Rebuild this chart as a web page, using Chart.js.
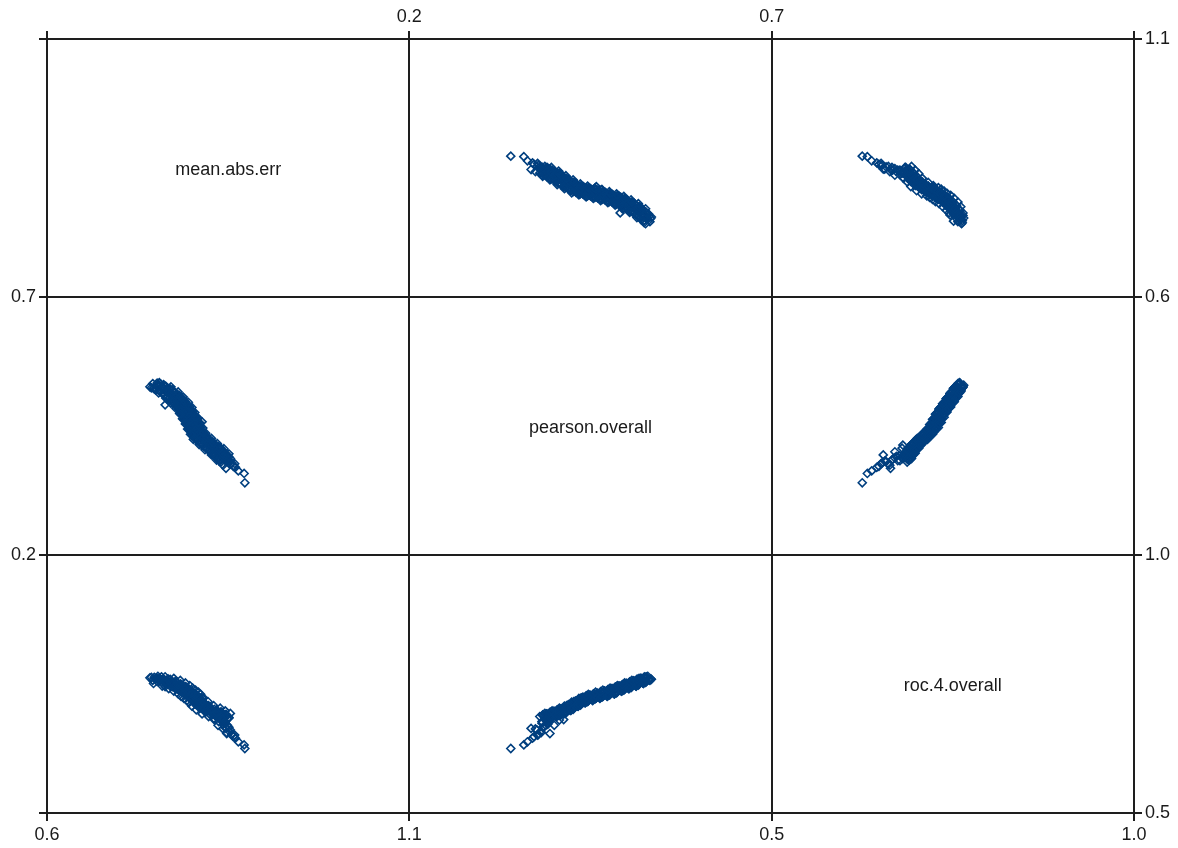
<!DOCTYPE html>
<html>
<head>
<meta charset="utf-8">
<title>Scatterplot matrix</title>
<script src="https://cdn.jsdelivr.net/npm/chart.js@4/dist/chart.umd.min.js"></script>
<style>
  html, body { margin: 0; padding: 0; background: #fff; }
  canvas { display: block; }
</style>
</head>
<body>
<canvas id="splom" width="1178" height="848"></canvas>
<script>
// variable names shown on the diagonal
const varNames = ["mean.abs.err", "pearson.overall", "roc.4.overall"];

// axis ranges (the two tick labels of each variable)
const maeTicks = [0.6, 1.1];
const pearsonTicks = [0.2, 0.7];
const rocTicks = [0.5, 1.0];

// one value per model run, same order in all three arrays
const pearson = [
  0.390, 0.380, 0.385, 0.387, 0.394, 0.386, 0.389, 0.393, 0.400, 0.390, 0.395, 0.397,
  0.404, 0.396, 0.399, 0.403, 0.410, 0.400, 0.405, 0.407, 0.414, 0.406, 0.409, 0.413,
  0.420, 0.410, 0.415, 0.417, 0.424, 0.416, 0.419, 0.423, 0.430, 0.420, 0.425, 0.427,
  0.434, 0.426, 0.429, 0.433, 0.440, 0.430, 0.435, 0.437, 0.444, 0.436, 0.439, 0.443,
  0.450, 0.440, 0.445, 0.447, 0.454, 0.446, 0.449, 0.453, 0.460, 0.450, 0.455, 0.457,
  0.464, 0.456, 0.459, 0.463, 0.470, 0.460, 0.465, 0.467, 0.474, 0.466, 0.469, 0.473,
  0.480, 0.470, 0.475, 0.477, 0.484, 0.476, 0.479, 0.483, 0.490, 0.480, 0.485, 0.487,
  0.494, 0.486, 0.489, 0.493, 0.500, 0.490, 0.495, 0.497, 0.504, 0.496, 0.499, 0.503,
  0.510, 0.500, 0.505, 0.507, 0.514, 0.506, 0.509, 0.513, 0.520, 0.510, 0.515, 0.517,
  0.524, 0.516, 0.519, 0.523, 0.530, 0.520, 0.525, 0.527, 0.533, 0.526, 0.529, 0.532,
  0.340, 0.358, 0.363, 0.370, 0.377, 0.368, 0.382, 0.386, 0.391, 0.374, 0.394, 0.407,
  0.400, 0.413, 0.458, 0.465, 0.475, 0.491,
  0.392, 0.384, 0.388, 0.397, 0.389, 0.393, 0.402, 0.394, 0.398, 0.407, 0.399, 0.403,
  0.412, 0.404, 0.408, 0.417, 0.409, 0.413, 0.422, 0.414, 0.418, 0.427, 0.419, 0.423,
  0.432, 0.424, 0.428, 0.437, 0.429, 0.433, 0.442, 0.434, 0.438, 0.447, 0.439, 0.443,
  0.452, 0.444, 0.448, 0.457, 0.449, 0.453, 0.462, 0.454, 0.458, 0.467, 0.459, 0.463,
  0.472, 0.464, 0.468, 0.477, 0.469, 0.473, 0.482, 0.474, 0.478, 0.487, 0.479, 0.483,
  0.492, 0.484, 0.488, 0.497, 0.489, 0.493, 0.502, 0.494, 0.498, 0.507, 0.499, 0.503,
  0.512, 0.504, 0.508, 0.517, 0.509, 0.513, 0.522, 0.514, 0.518, 0.527, 0.519, 0.523,
  0.531, 0.524, 0.528,
  0.387, 0.383, 0.396, 0.384, 0.397, 0.393, 0.406, 0.394, 0.407, 0.403, 0.416, 0.404,
  0.417, 0.413, 0.426, 0.414, 0.427, 0.423, 0.436, 0.424, 0.437, 0.433, 0.446, 0.434,
  0.447, 0.443, 0.456, 0.444, 0.457, 0.453, 0.466, 0.454, 0.467, 0.463, 0.476, 0.464,
  0.477, 0.473, 0.486, 0.474, 0.487, 0.483, 0.496, 0.484, 0.497, 0.493, 0.506, 0.494,
  0.507, 0.503, 0.516, 0.504, 0.517, 0.513, 0.526, 0.514, 0.527, 0.523, 0.534, 0.524,
  0.372, 0.378, 0.381, 0.376, 0.384, 0.388, 0.383, 0.392, 0.390, 0.396
];
const maeErr = [
  0.851, 0.840, 0.848, 0.842, 0.846, 0.836, 0.847, 0.840, 0.844, 0.833, 0.841, 0.835,
  0.839, 0.829, 0.840, 0.833, 0.837, 0.826, 0.834, 0.828, 0.830, 0.820, 0.831, 0.824,
  0.828, 0.817, 0.825, 0.819, 0.822, 0.812, 0.823, 0.816, 0.820, 0.809, 0.817, 0.811,
  0.814, 0.804, 0.815, 0.808, 0.814, 0.803, 0.811, 0.805, 0.810, 0.800, 0.811, 0.804,
  0.810, 0.799, 0.807, 0.801, 0.806, 0.796, 0.807, 0.800, 0.807, 0.796, 0.804, 0.798,
  0.803, 0.793, 0.804, 0.797, 0.803, 0.792, 0.800, 0.794, 0.799, 0.789, 0.800, 0.793,
  0.799, 0.788, 0.796, 0.790, 0.795, 0.785, 0.796, 0.789, 0.795, 0.784, 0.792, 0.786,
  0.790, 0.780, 0.791, 0.784, 0.789, 0.778, 0.786, 0.780, 0.783, 0.773, 0.784, 0.777,
  0.782, 0.771, 0.779, 0.773, 0.776, 0.766, 0.777, 0.770, 0.773, 0.762, 0.770, 0.764,
  0.766, 0.756, 0.767, 0.760, 0.761, 0.750, 0.758, 0.752, 0.752, 0.742, 0.753, 0.746,
  0.873, 0.872, 0.864, 0.860, 0.859, 0.847, 0.848, 0.846, 0.843, 0.843, 0.848, 0.840,
  0.836, 0.832, 0.814, 0.808, 0.799, 0.763,
  0.849, 0.840, 0.844, 0.845, 0.836, 0.840, 0.842, 0.833, 0.837, 0.838, 0.829, 0.833,
  0.834, 0.825, 0.829, 0.829, 0.820, 0.824, 0.825, 0.816, 0.820, 0.821, 0.812, 0.816,
  0.817, 0.808, 0.812, 0.814, 0.805, 0.809, 0.812, 0.803, 0.807, 0.810, 0.801, 0.805,
  0.808, 0.799, 0.803, 0.807, 0.798, 0.802, 0.805, 0.796, 0.800, 0.803, 0.794, 0.798,
  0.801, 0.792, 0.796, 0.799, 0.790, 0.794, 0.797, 0.788, 0.792, 0.795, 0.786, 0.790,
  0.793, 0.784, 0.788, 0.790, 0.781, 0.785, 0.786, 0.777, 0.781, 0.783, 0.774, 0.778,
  0.779, 0.770, 0.774, 0.775, 0.766, 0.770, 0.770, 0.761, 0.765, 0.764, 0.755, 0.759,
  0.757, 0.748, 0.752,
  0.853, 0.837, 0.851, 0.834, 0.846, 0.830, 0.844, 0.827, 0.839, 0.823, 0.835, 0.818,
  0.830, 0.814, 0.827, 0.810, 0.822, 0.806, 0.819, 0.802, 0.816, 0.800, 0.815, 0.798,
  0.812, 0.796, 0.811, 0.794, 0.809, 0.793, 0.808, 0.791, 0.805, 0.789, 0.804, 0.787,
  0.801, 0.785, 0.800, 0.783, 0.797, 0.781, 0.795, 0.778, 0.791, 0.775, 0.788, 0.771,
  0.784, 0.768, 0.781, 0.764, 0.775, 0.759, 0.771, 0.754, 0.763, 0.747, 0.755, 0.744,
  0.857, 0.855, 0.852, 0.853, 0.851, 0.849, 0.846, 0.846, 0.843, 0.842
];
const roc4 = [
  0.685, 0.687, 0.690, 0.681, 0.685, 0.687, 0.691, 0.682, 0.690, 0.692, 0.695, 0.686,
  0.690, 0.692, 0.696, 0.687, 0.695, 0.697, 0.700, 0.691, 0.695, 0.697, 0.701, 0.692,
  0.700, 0.702, 0.705, 0.696, 0.702, 0.704, 0.708, 0.699, 0.708, 0.710, 0.713, 0.704,
  0.710, 0.712, 0.716, 0.707, 0.715, 0.717, 0.720, 0.711, 0.717, 0.719, 0.723, 0.714,
  0.722, 0.724, 0.727, 0.718, 0.722, 0.724, 0.728, 0.719, 0.726, 0.728, 0.731, 0.722,
  0.726, 0.728, 0.732, 0.723, 0.730, 0.732, 0.735, 0.726, 0.730, 0.732, 0.736, 0.727,
  0.734, 0.736, 0.739, 0.730, 0.734, 0.736, 0.740, 0.731, 0.739, 0.741, 0.744, 0.735,
  0.739, 0.741, 0.745, 0.736, 0.744, 0.746, 0.749, 0.740, 0.744, 0.746, 0.750, 0.741,
  0.749, 0.751, 0.754, 0.745, 0.749, 0.751, 0.755, 0.746, 0.754, 0.756, 0.759, 0.750,
  0.754, 0.756, 0.760, 0.751, 0.759, 0.761, 0.764, 0.755, 0.760, 0.762, 0.765, 0.757,
  0.625, 0.632, 0.638, 0.645, 0.651, 0.664, 0.656, 0.667, 0.672, 0.663, 0.654, 0.680,
  0.670, 0.681, 0.723, 0.725, 0.728, 0.745,
  0.683, 0.689, 0.686, 0.686, 0.692, 0.689, 0.688, 0.694, 0.691, 0.691, 0.697, 0.694,
  0.693, 0.699, 0.696, 0.696, 0.702, 0.699, 0.699, 0.705, 0.702, 0.703, 0.709, 0.706,
  0.707, 0.713, 0.710, 0.711, 0.717, 0.714, 0.714, 0.720, 0.717, 0.718, 0.724, 0.721,
  0.720, 0.726, 0.723, 0.722, 0.728, 0.725, 0.724, 0.730, 0.727, 0.726, 0.732, 0.729,
  0.728, 0.734, 0.731, 0.730, 0.736, 0.733, 0.732, 0.738, 0.735, 0.735, 0.741, 0.738,
  0.737, 0.743, 0.740, 0.740, 0.746, 0.743, 0.742, 0.748, 0.745, 0.745, 0.751, 0.748,
  0.747, 0.753, 0.750, 0.750, 0.756, 0.753, 0.752, 0.758, 0.755, 0.755, 0.761, 0.758,
  0.758, 0.763, 0.761,
  0.693, 0.677, 0.684, 0.690, 0.698, 0.682, 0.689, 0.695, 0.703, 0.687, 0.694, 0.700,
  0.708, 0.692, 0.701, 0.707, 0.716, 0.700, 0.709, 0.715, 0.723, 0.707, 0.716, 0.722,
  0.730, 0.714, 0.721, 0.727, 0.734, 0.718, 0.725, 0.731, 0.738, 0.722, 0.729, 0.735,
  0.742, 0.726, 0.733, 0.739, 0.747, 0.731, 0.738, 0.744, 0.752, 0.736, 0.743, 0.749,
  0.757, 0.741, 0.748, 0.754, 0.761, 0.746, 0.753, 0.759, 0.764, 0.751, 0.759, 0.763,
  0.648, 0.652, 0.658, 0.661, 0.666, 0.670, 0.674, 0.677, 0.680, 0.683
];

const columns = [maeErr, pearson, roc4];
const lineColor = "#1e1e1e";
const pointColor = "#003f7f";
const fontFamily = "'Liberation Sans', Arial, sans-serif";

// one axis per matrix row/column on every side, stacked so each takes a third
function edgeAxis(position, range, showLabels, size) {
  const vertical = position === "left" || position === "right";
  return {
    type: "linear",
    axis: vertical ? "y" : "x",
    position: position,
    stack: position,
    min: range[0],
    max: range[1],
    afterBuildTicks: (s) => { s.ticks = range.map((v) => ({ value: v })); },
    afterFit: (s) => { if (vertical) s.width = size; else s.height = size; },
    grid: { color: lineColor, lineWidth: 2, tickLength: 8, tickColor: lineColor, tickWidth: 2 },
    border: { color: lineColor, width: 2 },
    ticks: {
      autoSkip: false,
      maxRotation: 0,
      padding: 3,
      color: "#1a1a1a",
      font: { family: fontFamily, size: 18 },
      callback: (v) => (showLabels ? Number(v).toFixed(1) : ""),
    },
  };
}

const scales = {};
// bottom and right carry the data
scales.xa = edgeAxis("bottom", maeTicks, true, 35);
scales.xb = edgeAxis("bottom", pearsonTicks, false, 35);
scales.xc = edgeAxis("bottom", rocTicks, true, 35);
scales.ya = edgeAxis("right", maeTicks, true, 44);
scales.yb = edgeAxis("right", pearsonTicks, false, 44);
scales.yc = edgeAxis("right", rocTicks, true, 44);
// top and left only draw ticks / labels
scales.ta = edgeAxis("top", maeTicks, false, 39);
scales.tb = edgeAxis("top", pearsonTicks, true, 39);
scales.tc = edgeAxis("top", rocTicks, false, 39);
scales.la = edgeAxis("left", maeTicks, false, 47);
scales.lb = edgeAxis("left", pearsonTicks, true, 47);
scales.lc = edgeAxis("left", rocTicks, false, 47);

const xIds = ["xa", "xb", "xc"];
const yIds = ["ya", "yb", "yc"];

const datasets = [];
for (let r = 0; r < 3; r++) {
  for (let c = 0; c < 3; c++) {
    if (r === c) continue;
    datasets.push({
      label: varNames[r] + " vs " + varNames[c],
      data: columns[c].map((v, i) => ({ x: v, y: columns[r][i] })),
      xAxisID: xIds[c],
      yAxisID: yIds[r],
      pointStyle: "rectRot",
      pointRadius: 4,
      pointHoverRadius: 4,
      pointBorderWidth: 1.6,
      pointBorderColor: pointColor,
      pointBackgroundColor: "rgba(0,0,0,0)",
    });
  }
}

const diagonalLabels = {
  id: "diagonalLabels",
  afterDatasetsDraw(chart) {
    const ctx = chart.ctx;
    ctx.save();
    ctx.font = "18px " + fontFamily;
    ctx.fillStyle = "#1a1a1a";
    ctx.textAlign = "center";
    ctx.textBaseline = "middle";
    varNames.forEach((name, i) => {
      const xs = chart.scales[xIds[i]];
      const ys = chart.scales[yIds[i]];
      ctx.fillText(name, (xs.left + xs.right) / 2, (ys.top + ys.bottom) / 2 + 2);
    });
    ctx.restore();
  },
};

new Chart(document.getElementById("splom"), {
  type: "scatter",
  data: { datasets: datasets },
  options: {
    responsive: false,
    animation: false,
    events: [],
    layout: { padding: 0 },
    plugins: { legend: { display: false }, tooltip: { enabled: false } },
    scales: scales,
  },
  plugins: [diagonalLabels],
});
</script>
</body>
</html>
